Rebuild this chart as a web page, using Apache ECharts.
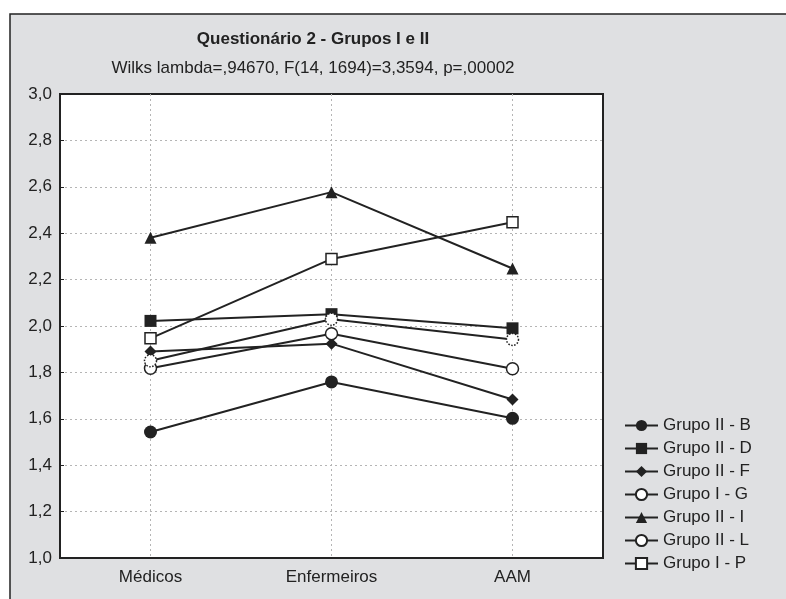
<!DOCTYPE html>
<html>
<head>
<meta charset="utf-8">
<script src="https://cdn.jsdelivr.net/npm/echarts@6/dist/echarts.min.js"></script>
<style>
  html, body { margin: 0; padding: 0; background: #fff; }
  #chart { width: 786px; height: 599px; }
</style>
</head>
<body>
<div id="chart"></div>
<script>
// categorias (grupos profissionais)
var categories = ['Médicos', 'Enfermeiros', 'AAM'];

// médias
var grupoIIB = [1.543, 1.759, 1.602];
var grupoIID = [2.022, 2.051, 1.990];
var grupoIIF = [1.890, 1.924, 1.683];
var grupoIG  = [1.818, 1.967, 1.816];
var grupoIII = [2.380, 2.577, 2.248];
var grupoIIL = [1.850, 2.029, 1.942];
var grupoIP  = [1.947, 2.289, 2.447];

var seriesNames = ['Grupo II - B', 'Grupo II - D', 'Grupo II - F', 'Grupo I - G', 'Grupo II - I', 'Grupo II - L', 'Grupo I - P'];

var ink = '#222';
var font = 'Liberation Sans, Arial, sans-serif';
var fs = 17;

// eixo auxiliar só para as linhas verticais de grade no centro das categorias
var gridCats = [''];
categories.forEach(function (c) { gridCats.push(c, ''); });

function mk(name, data, symbol, size, fill, borderType) {
  return {
    name: name,
    type: 'line',
    data: data,
    symbol: symbol,
    symbolSize: size,
    showAllSymbol: true,
    lineStyle: { color: ink, width: 2 },
    itemStyle: {
      color: fill,
      borderColor: ink,
      borderWidth: fill === '#fff' ? 1.5 : 0,
      borderType: borderType || 'solid'
    },
    emphasis: { disabled: true }
  };
}

var chart = echarts.init(document.getElementById('chart'));
chart.setOption({
  animation: false,
  backgroundColor: '#fff',
  textStyle: { fontFamily: font },
  graphic: [{
    type: 'rect',
    z: -10,
    shape: { x: 10, y: 14, width: 800, height: 620 },
    style: { fill: '#dfe0e2', stroke: ink, lineWidth: 1.5 }
  }],
  title: {
    text: 'Questionário 2 - Grupos I e II',
    subtext: 'Wilks lambda=,94670, F(14, 1694)=3,3594, p=,00002',
    left: 308,
    textAlign: 'center',
    top: 26,
    itemGap: 12,
    textStyle: { fontFamily: font, fontSize: fs, fontWeight: 'bold', color: ink },
    subtextStyle: { fontFamily: font, fontSize: fs, color: ink }
  },
  legend: {
    orient: 'vertical',
    left: 619,
    top: 412,
    itemWidth: 33,
    itemHeight: 14,
    itemGap: 6,
    textStyle: { fontFamily: font, fontSize: fs, color: ink },
    data: seriesNames
  },
  grid: {
    left: 60, right: 183, top: 94, bottom: 41,
    show: true,
    backgroundColor: '#fff',
    borderColor: ink,
    borderWidth: 2
  },
  xAxis: [{
    type: 'category',
    data: categories,
    boundaryGap: true,
    axisLine: { lineStyle: { color: ink, width: 2 } },
    axisTick: { inside: true, alignWithLabel: true, length: 4, lineStyle: { color: ink } },
    axisLabel: { color: ink, fontSize: fs, margin: 11 },
    splitLine: { show: false }
  }, {
    type: 'category',
    data: gridCats,
    boundaryGap: false,
    position: 'bottom',
    axisLine: { show: false },
    axisTick: { show: false },
    axisLabel: { show: false },
    splitLine: {
      show: true,
      interval: function (i) { return i % 2 === 1; },
      lineStyle: { color: '#b5b5b5', type: [2, 3], width: 1 }
    }
  }],
  yAxis: {
    type: 'value',
    min: 1,
    max: 3,
    interval: 0.2,
    axisLine: { show: true, lineStyle: { color: ink, width: 2 } },
    axisTick: { show: true, inside: true, length: 4, lineStyle: { color: ink } },
    axisLabel: {
      color: ink, fontSize: fs, margin: 8,
      formatter: function (v) { return v.toFixed(1).replace('.', ','); }
    },
    splitLine: {
      show: true,
      showMinLine: false,
      showMaxLine: false,
      lineStyle: { color: '#b5b5b5', type: [2, 3], width: 1 }
    }
  },
  series: [
    mk(seriesNames[0], grupoIIB, 'circle', 13, ink),
    mk(seriesNames[1], grupoIID, 'rect', 12, ink),
    mk(seriesNames[2], grupoIIF, 'diamond', 12, ink),
    mk(seriesNames[3], grupoIG, 'circle', 12, '#fff'),
    mk(seriesNames[4], grupoIII, 'triangle', 12, ink),
    mk(seriesNames[5], grupoIIL, 'circle', 12, '#fff', 'dotted'),
    mk(seriesNames[6], grupoIP, 'rect', 11, '#fff')
  ]
});
</script>
</body>
</html>
